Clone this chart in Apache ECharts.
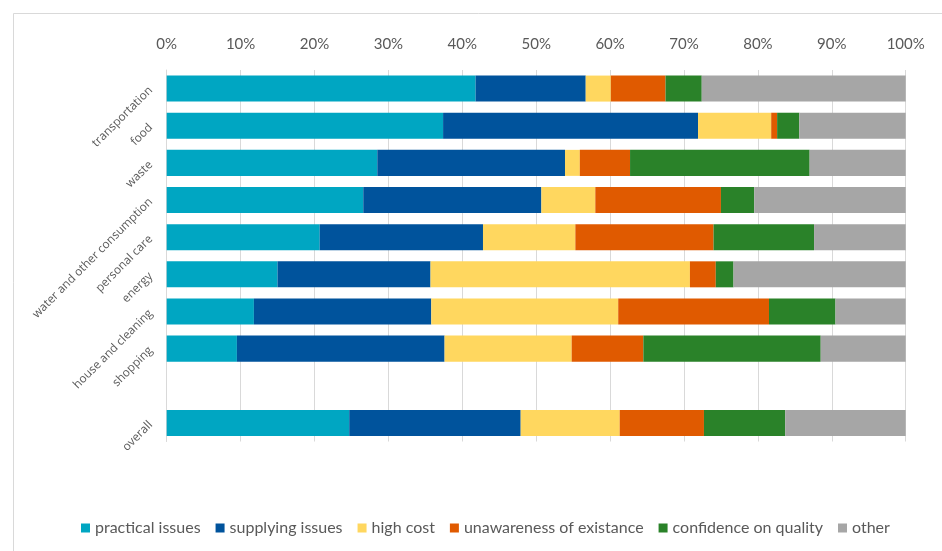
<!DOCTYPE html>
<html>
<head>
<meta charset="utf-8">
<script src="https://cdn.jsdelivr.net/npm/echarts@6/dist/echarts.min.js"></script>
<style>
  html, body { margin: 0; padding: 0; background: #fff; }
  #chart { width: 942px; height: 551px; }
</style>
</head>
<body>
<div id="chart"></div>
<script>
// Categories (top to bottom); the blank entry leaves a gap before "overall"
const categories = ['transportation', 'food', 'waste', 'water and other consumption',
  'personal care', 'energy', 'house and cleaning', 'shopping', '', 'overall'];

// Share of answers per reason, in percent
const practicalIssues   = [41.8, 37.4, 28.5, 26.6, 20.7, 15.0, 11.8,  9.5, null, 24.7];
const supplyingIssues   = [14.9, 34.5, 25.4, 24.1, 22.1, 20.7, 24.0, 28.1, null, 23.2];
const highCost          = [ 3.4,  9.9,  2.0,  7.3, 12.5, 35.1, 25.3, 17.2, null, 13.4];
const unawareness       = [ 7.4,  0.8,  6.8, 17.0, 18.7,  3.5, 20.4,  9.7, null, 11.4];
const confidenceQuality = [ 4.9,  3.0, 24.3,  4.5, 13.6,  2.4,  9.0, 24.0, null, 11.0];
const other             = [27.6, 14.4, 13.0, 20.5, 12.4, 23.3,  9.5, 11.5, null, 16.3];

const seriesNames = ['practical issues', 'supplying issues', 'high cost',
  'unawareness of existance', 'confidence on quality', 'other'];
const seriesData = [practicalIssues, supplyingIssues, highCost, unawareness, confidenceQuality, other];
const colors = ['#00A6C2', '#00539C', '#FFD75F', '#E05A00', '#2A8229', '#A6A6A6'];

const chart = echarts.init(document.getElementById('chart'), null, { renderer: 'canvas' });

chart.setOption({
  animation: false,
  backgroundColor: '#ffffff',
  color: colors,
  graphic: [{
    type: 'rect',
    shape: { x: 13.5, y: 13.5, width: 940, height: 560 },
    style: { fill: 'none', stroke: '#d9d9d9', lineWidth: 1 },
    silent: true
  }],
  legend: {
    bottom: 10,
    left: 76,
    itemWidth: 9,
    itemHeight: 9,
    itemGap: 15,
    icon: 'rect',
    textStyle: { fontFamily: 'Lato', fontSize: 16, color: '#595959' },
    data: seriesNames
  },
  grid: { left: 166.7, right: 36.3, top: 70, bottom: 109.5 },
  xAxis: {
    type: 'value',
    position: 'top',
    min: 0,
    max: 100,
    interval: 10,
    axisLine: { show: false },
    axisTick: { show: false },
    splitLine: { lineStyle: { color: '#d9d9d9', width: 1 } },
    axisLabel: {
      formatter: '{value}%',
      margin: 18,
      fontFamily: 'Lato',
      fontSize: 15,
      color: '#595959'
    }
  },
  yAxis: {
    type: 'category',
    inverse: true,
    data: categories,
    axisLine: { show: true, lineStyle: { color: '#d9d9d9' } },
    axisTick: { show: false },
    axisLabel: {
      rotate: 45,
      margin: 16,
      fontFamily: 'Open Sans',
      fontSize: 11.8,
      color: '#595959'
    }
  },
  series: seriesNames.map((name, i) => ({
    name: name,
    type: 'bar',
    stack: 'total',
    barCategoryGap: '30%',
    data: seriesData[i],
    itemStyle: { color: colors[i] }
  }))
});
</script>
</body>
</html>
